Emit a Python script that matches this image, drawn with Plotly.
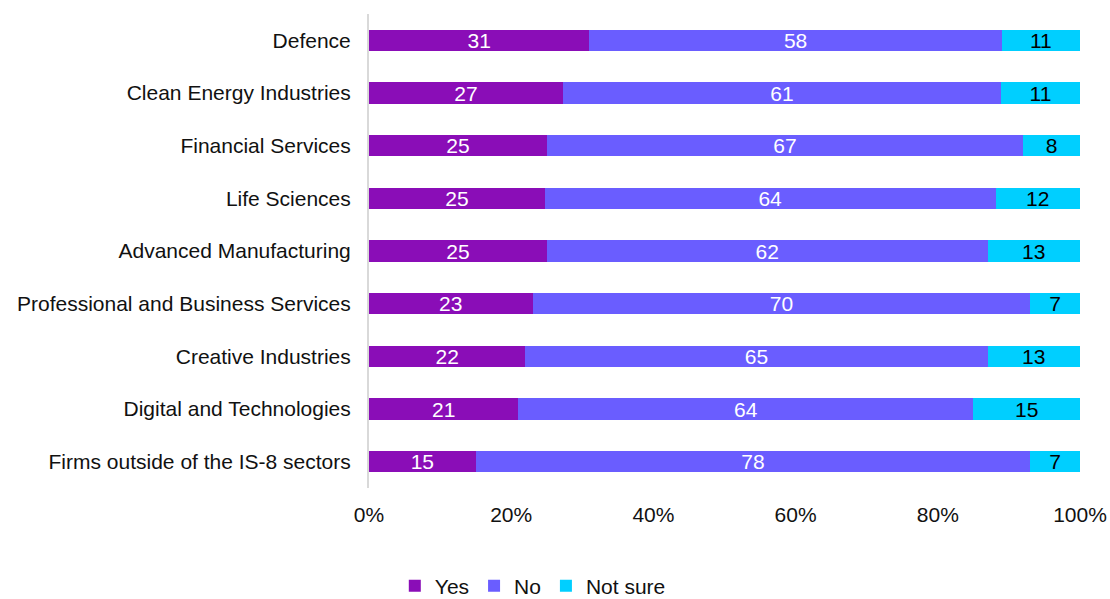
import plotly.graph_objects as go

sectors = [
    "Defence",
    "Clean Energy Industries",
    "Financial Services",
    "Life Sciences",
    "Advanced Manufacturing",
    "Professional and Business Services",
    "Creative Industries",
    "Digital and Technologies",
    "Firms outside of the IS-8 sectors",
]
yes = [31, 27, 25, 25, 25, 23, 22, 21, 15]
no = [58, 61, 67, 64, 62, 70, 65, 64, 78]
not_sure = [11, 11, 8, 12, 13, 7, 13, 15, 7]

tick_vals = [0, 20, 40, 60, 80, 100]
tick_text = ["0%", "20%", "40%", "60%", "80%", "100%"]

series = [
    ("Yes", yes, "#8A0DB7", "white"),
    ("No", no, "#6A5DFF", "white"),
    ("Not sure", not_sure, "#00CFFF", "black"),
]

FONT = "Liberation Sans, Arial, sans-serif"
SIZE = 21

fig = go.Figure()
for name, vals, color, txt_color in series:
    fig.add_trace(go.Bar(
        name=name,
        y=sectors,
        x=vals,
        orientation="h",
        marker=dict(color=color, line=dict(width=0)),
        text=[str(v) for v in vals],
        textposition="inside",
        insidetextanchor="middle",
        textangle=0,
        constraintext="none",
        textfont=dict(color=txt_color, size=SIZE, family=FONT),
        hoverinfo="skip",
    ))

fig.update_layout(
    barmode="stack",
    barnorm="percent",
    bargap=0.6,
    width=1110,
    height=599,
    margin=dict(l=369, r=30, t=14, b=111, autoexpand=False),
    paper_bgcolor="white",
    plot_bgcolor="white",
    font=dict(family=FONT, size=SIZE, color="#111111"),
    legend=dict(
        orientation="h",
        xref="container",
        x=0.48,
        xanchor="center",
        y=-0.207,
        yanchor="middle",
        borderwidth=0,
        font=dict(size=SIZE, family=FONT),
        traceorder="normal",
        itemwidth=30,
    ),
    showlegend=True,
)
fig.update_xaxes(
    range=[0, 100],
    tickvals=tick_vals,
    ticktext=tick_text,
    showgrid=False,
    zeroline=False,
    showline=False,
    ticks="",
    automargin=False,
    ticklabelstandoff=12,
    tickfont=dict(size=SIZE, family=FONT),
)
fig.update_yaxes(
    categoryorder="array",
    categoryarray=sectors,
    autorange="reversed",
    showgrid=False,
    showline=True,
    linecolor="#d9d9d9",
    linewidth=2,
    ticks="",
    automargin=False,
    ticklabelstandoff=12,
    tickfont=dict(size=SIZE, family=FONT),
)

fig.write_html("out.html")
